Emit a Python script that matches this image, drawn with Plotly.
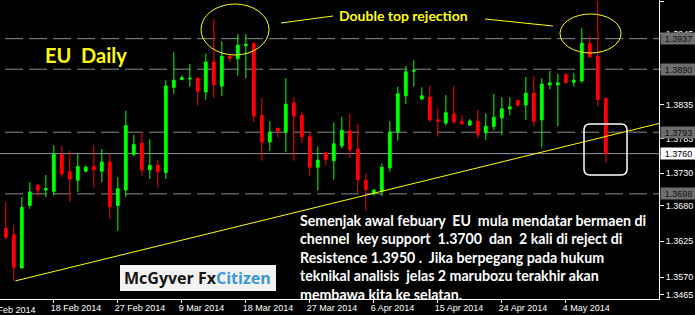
import plotly.graph_objects as go
from datetime import date

# EUR/USD daily bars (broker feed includes short Sunday sessions)
dates = [
    "2014-02-11", "2014-02-12", "2014-02-13", "2014-02-14", "2014-02-16", "2014-02-17",
    "2014-02-18", "2014-02-19", "2014-02-20", "2014-02-21", "2014-02-23", "2014-02-24",
    "2014-02-25", "2014-02-26", "2014-02-27", "2014-02-28", "2014-03-02", "2014-03-03",
    "2014-03-04", "2014-03-05", "2014-03-06", "2014-03-07", "2014-03-09", "2014-03-10",
    "2014-03-11", "2014-03-12", "2014-03-13", "2014-03-14", "2014-03-16", "2014-03-17",
    "2014-03-18", "2014-03-19", "2014-03-20", "2014-03-21", "2014-03-23", "2014-03-24",
    "2014-03-25", "2014-03-26", "2014-03-27", "2014-03-28", "2014-03-30", "2014-03-31",
    "2014-04-01", "2014-04-02", "2014-04-03", "2014-04-04", "2014-04-06", "2014-04-07",
    "2014-04-08", "2014-04-09", "2014-04-10", "2014-04-11", "2014-04-13", "2014-04-14",
    "2014-04-15", "2014-04-16", "2014-04-17", "2014-04-18", "2014-04-20", "2014-04-21",
    "2014-04-22", "2014-04-23", "2014-04-24", "2014-04-25", "2014-04-27", "2014-04-28",
    "2014-04-29", "2014-04-30", "2014-05-01", "2014-05-02", "2014-05-04", "2014-05-05",
    "2014-05-06", "2014-05-07", "2014-05-08", "2014-05-09",
]
opens = [
    1.3645, 1.3635, 1.3584, 1.3680, 1.3711, 1.3704, 1.3702, 1.3759, 1.3732, 1.3719,
    1.3733, 1.3740, 1.3733, 1.3747, 1.3680, 1.3704, 1.3759, 1.3776, 1.3735, 1.3742,
    1.3731, 1.3862, 1.3874, 1.3875, 1.3876, 1.3855, 1.3901, 1.3864, 1.3910, 1.3906,
    1.3926, 1.3929, 1.3819, 1.3778, 1.3799, 1.3793, 1.3838, 1.3819, 1.3786, 1.3739,
    1.3761, 1.3749, 1.3772, 1.3795, 1.3767, 1.3719, 1.3699, 1.3702, 1.3738, 1.3793,
    1.3849, 1.3887, 1.3844, 1.3847, 1.3812, 1.3807, 1.3821, 1.3810, 1.3804, 1.3810,
    1.3792, 1.3802, 1.3815, 1.3829, 1.3842, 1.3835, 1.3853, 1.3812, 1.3866, 1.3866,
    1.3882, 1.3870, 1.3872, 1.3929, 1.3910, 1.3845,
]
highs = [
    1.3686, 1.3650, 1.3693, 1.3716, 1.3713, 1.3727, 1.3773, 1.3772, 1.3764, 1.3759,
    1.3742, 1.3773, 1.3767, 1.3759, 1.3724, 1.3826, 1.3789, 1.3793, 1.3782, 1.3750,
    1.3873, 1.3916, 1.3880, 1.3898, 1.3878, 1.3914, 1.3967, 1.3933, 1.3912, 1.3944,
    1.3944, 1.3932, 1.3846, 1.3810, 1.3800, 1.3876, 1.3847, 1.3825, 1.3794, 1.3771,
    1.3763, 1.3808, 1.3817, 1.3822, 1.3806, 1.3730, 1.3704, 1.3745, 1.3810, 1.3863,
    1.3895, 1.3904, 1.3862, 1.3864, 1.3831, 1.3850, 1.3864, 1.3819, 1.3813, 1.3827,
    1.3822, 1.3852, 1.3847, 1.3847, 1.3843, 1.3878, 1.3879, 1.3876, 1.3887, 1.3883,
    1.3883, 1.3884, 1.3953, 1.3941, 1.3995, 1.3846,
]
lows = [
    1.3628, 1.3564, 1.3583, 1.3675, 1.3695, 1.3693, 1.3695, 1.3724, 1.3686, 1.3701,
    1.3731, 1.3708, 1.3716, 1.3659, 1.3641, 1.3693, 1.3756, 1.3726, 1.3721, 1.3708,
    1.3721, 1.3852, 1.3873, 1.3863, 1.3834, 1.3843, 1.3846, 1.3849, 1.3901, 1.3880,
    1.3876, 1.3809, 1.3749, 1.3764, 1.3785, 1.3762, 1.3749, 1.3776, 1.3726, 1.3703,
    1.3742, 1.3720, 1.3768, 1.3753, 1.3698, 1.3672, 1.3695, 1.3695, 1.3732, 1.3780,
    1.3836, 1.3863, 1.3843, 1.3809, 1.3786, 1.3803, 1.3806, 1.3804, 1.3803, 1.3784,
    1.3781, 1.3796, 1.3789, 1.3819, 1.3832, 1.3812, 1.3802, 1.3769, 1.3859, 1.3802,
    1.3868, 1.3863, 1.3869, 1.3907, 1.3833, 1.3746,
]
closes = [
    1.3631, 1.3585, 1.3677, 1.3701, 1.3704, 1.3706, 1.3759, 1.3729, 1.3721, 1.3740,
    1.3739, 1.3735, 1.3747, 1.3678, 1.3706, 1.3803, 1.3774, 1.3735, 1.3742, 1.3732,
    1.3864, 1.3873, 1.3877, 1.3876, 1.3856, 1.3901, 1.3866, 1.3910, 1.3907, 1.3927,
    1.3928, 1.3818, 1.3778, 1.3793, 1.3795, 1.3836, 1.3818, 1.3786, 1.3739, 1.3750,
    1.3751, 1.3775, 1.3796, 1.3766, 1.3720, 1.3705, 1.3704, 1.3739, 1.3793, 1.3852,
    1.3886, 1.3888, 1.3849, 1.3812, 1.3810, 1.3823, 1.3809, 1.3806, 1.3810, 1.3790,
    1.3802, 1.3816, 1.3829, 1.3832, 1.3835, 1.3853, 1.3810, 1.3867, 1.3869, 1.3869,
    1.3869, 1.3873, 1.3930, 1.3909, 1.3843, 1.3760,
]

# date axis labels
tick_dates = ["2014-02-18", "2014-02-27", "2014-03-09", "2014-03-18", "2014-03-27",
              "2014-04-06", "2014-04-15", "2014-04-24", "2014-05-04"]
first_label = "9 Feb 2014"

# price scale labels (last one is the scale's bottom marker)
price_ticks = [1.3995, 1.3945, 1.3890, 1.3835, 1.3783, 1.3730, 1.3680, 1.3625, 1.3570, 1.35423]
price_tick_text = ["1.3995", "1.3945", "1.3890", "1.3835", "1.3783", "1.3730", "1.3680",
                   "1.3625", "1.3570", "1.3465"]

# horizontal levels
dashed_levels = [1.3937, 1.3890, 1.3793, 1.3698]
last_price = 1.3760

# rising support line (bar position, price)
trend_start = (1.2, 1.3564)
trend_end = (82.5, 1.3809)

commentary = [
    "Semenjak awal febuary  EU  mula mendatar bermaen di",
    "chennel  key support  1.3700  dan  2 kali di reject di",
    "Resistence 1.3950 .  Jika berpegang pada hukum",
    "teknikal analisis  jelas 2 marubozu terakhir akan",
    "membawa kita ke selatan.",
]

W, H = 695, 315
PW, PH = 659, 299  # plotting area in pixels
Y_RANGE = [1.353612, 1.399654]
X_RANGE = [-0.725, 81.65]

UP = "#00ff00"
DOWN = "#ff0000"
YEL = "#ffff00"


def px(x):
    return x / PW


def py(y):
    return 1 - y / PH


def keep_spaces(s):
    return s.replace("  ", "\u00a0 ")


def fmt_day(d):
    dt = date.fromisoformat(d)
    return f"{dt.day} {dt.strftime('%b')} {dt.year}"


fig = go.Figure()
fig.add_trace(go.Candlestick(
    x=dates, open=opens, high=highs, low=lows, close=closes,
    increasing=dict(line=dict(color=UP, width=1), fillcolor=UP),
    decreasing=dict(line=dict(color=DOWN, width=1), fillcolor=DOWN),
    whiskerwidth=0, hoverinfo="skip", showlegend=False,
))

shapes = []
for lv in dashed_levels:
    shapes.append(dict(type="line", xref="paper", yref="y", x0=px(5), x1=1, y0=lv, y1=lv,
                       line=dict(color="#8a8a8a", width=1, dash="18px,6px"), layer="below"))
shapes.append(dict(type="line", xref="paper", yref="y", x0=0, x1=1, y0=last_price, y1=last_price,
                   line=dict(color="#8e98a8", width=1), layer="below"))
shapes.append(dict(type="line", xref="x", yref="y", x0=trend_start[0], y0=trend_start[1],
                   x1=trend_end[0], y1=trend_end[1], line=dict(color=YEL, width=1), layer="above"))
# ellipses around the two tops
shapes.append(dict(type="circle", xref="paper", yref="paper", x0=px(201), x1=px(269),
                   y0=py(55), y1=py(4), line=dict(color=YEL, width=1)))
shapes.append(dict(type="circle", xref="paper", yref="paper", x0=px(560), x1=px(621),
                   y0=py(53), y1=py(14), line=dict(color=YEL, width=1)))
# leader lines from the caption
shapes.append(dict(type="line", xref="paper", yref="paper", x0=px(281), y0=py(23),
                   x1=px(333), y1=py(16), line=dict(color=YEL, width=1)))
shapes.append(dict(type="line", xref="paper", yref="paper", x0=px(485), y0=py(19),
                   x1=px(553), y1=py(26), line=dict(color=YEL, width=1)))
# rounded box around the last two bars
x0, x1, y0, y1, r = 584, 627, 124, 175, 6
path = (f"M {px(x0 + r)} {py(y0)} L {px(x1 - r)} {py(y0)} Q {px(x1)} {py(y0)} {px(x1)} {py(y0 + r)} "
        f"L {px(x1)} {py(y1 - r)} Q {px(x1)} {py(y1)} {px(x1 - r)} {py(y1)} "
        f"L {px(x0 + r)} {py(y1)} Q {px(x0)} {py(y1)} {px(x0)} {py(y1 - r)} "
        f"L {px(x0)} {py(y0 + r)} Q {px(x0)} {py(y0)} {px(x0 + r)} {py(y0)} Z")
shapes.append(dict(type="path", xref="paper", yref="paper", path=path,
                   line=dict(color="#ffffff", width=1.5)))
# logo plate
shapes.append(dict(type="rect", xref="paper", yref="paper", x0=px(120), x1=px(276),
                   y0=py(291), y1=py(265), fillcolor="#f2f2f2", line=dict(width=0), layer="above"))

annotations = []
annotations.append(dict(text=keep_spaces("EU  Daily"), xref="paper", yref="paper",
                        x=px(43), y=py(55), xanchor="left", yanchor="middle", showarrow=False,
                        font=dict(family="Lato", size=20, color=YEL, weight="bold")))
annotations.append(dict(text="Double top rejection", xref="paper", yref="paper",
                        x=px(337), y=py(16), xanchor="left", yanchor="middle", showarrow=False,
                        font=dict(family="Lato", size=14, color=YEL, weight="bold")))
annotations.append(dict(text="<br>".join(keep_spaces(s) for s in commentary),
                        xref="paper", yref="paper", x=px(298), y=py(210),
                        xanchor="left", yanchor="top", align="left", showarrow=False,
                        font=dict(family="Lato", size=14.2, color="#ffffff", weight="bold")))
annotations.append(dict(text="McGyver Fx<span style='color:#3a9ad6'>Citizen</span>",
                        xref="paper", yref="paper", x=px(122), y=py(278),
                        xanchor="left", yanchor="middle", showarrow=False,
                        font=dict(family="Open Sans", size=16, color="#151515", weight="bold")))
# partly visible first date label
annotations.append(dict(text=first_label, xref="paper", yref="paper", x=px(-12), y=0,
                        xanchor="left", yanchor="top", yshift=-4, showarrow=False,
                        font=dict(family="Liberation Sans", size=9, color="#ffffff")))
# price level tags on the scale
for lv in dashed_levels:
    annotations.append(dict(text=f"{lv:.4f}", xref="paper", yref="y", x=1, y=lv,
                            xanchor="left", yanchor="middle", xshift=1, showarrow=False,
                            bgcolor="#6e6e6e", width=33, height=9, borderpad=1,
                            font=dict(family="Liberation Sans", size=9, color="#111111")))
annotations.append(dict(text=f"{last_price:.4f}", xref="paper", yref="y", x=1, y=last_price,
                        xanchor="left", yanchor="middle", xshift=1, showarrow=False,
                        bgcolor="#ffffff", width=33, height=9, borderpad=1,
                        font=dict(family="Liberation Sans", size=9, color="#000000")))

fig.update_layout(
    width=W, height=H,
    margin=dict(l=0, r=W - PW, t=0, b=H - PH),
    paper_bgcolor="#000000", plot_bgcolor="#000000",
    boxgap=0.5,
    shapes=shapes, annotations=annotations,
    showlegend=False,
    xaxis=dict(type="category", range=X_RANGE, rangeslider=dict(visible=False),
               tickvals=tick_dates, ticktext=[fmt_day(d) for d in tick_dates],
               ticks="outside", ticklen=3, tickcolor="#ffffff", tickwidth=1,
               ticklabelposition="outside right", ticklabeloverflow="allow",
               ticklabelshift=-4,
               showline=True, linecolor="#ffffff", linewidth=1,
               showgrid=False, zeroline=False, fixedrange=True,
               tickfont=dict(family="Liberation Sans", size=9, color="#ffffff")),
    yaxis=dict(side="right", range=Y_RANGE, tickvals=price_ticks, ticktext=price_tick_text,
               ticks="outside", ticklen=4, tickcolor="#ffffff", tickwidth=1,
               showline=True, linecolor="#ffffff", linewidth=1,
               showgrid=False, zeroline=False, fixedrange=True,
               tickfont=dict(family="Liberation Sans", size=9, color="#ffffff")),
)

fig.write_html("out.html", config={"displayModeBar": False})
